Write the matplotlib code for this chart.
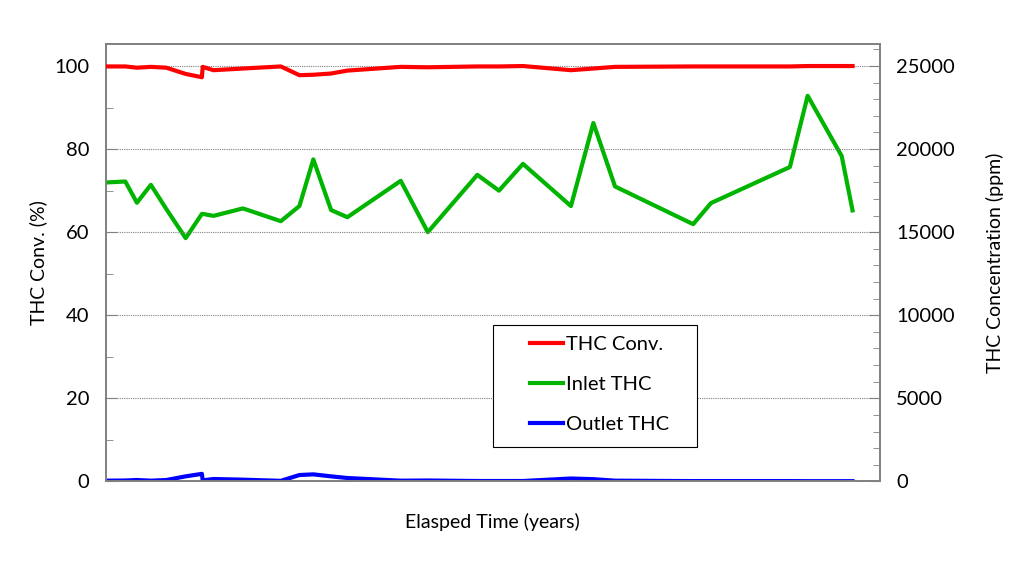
import matplotlib.pyplot as plt
from matplotlib.patches import Rectangle
from matplotlib.ticker import MultipleLocator, NullLocator

plt.rcParams['font.family'] = ['Lato', 'DejaVu Sans']

# elapsed time (years)
years = [0.0, 0.25, 0.40, 0.58, 0.78, 1.03, 1.24, 1.25, 1.39, 1.77, 2.26, 2.50,
         2.68, 2.91, 3.12, 3.81, 4.16, 4.80, 5.08, 5.39, 6.01, 6.30, 6.58, 7.59,
         7.82, 8.84, 9.07, 9.51, 9.65]
# THC conversion (%)
thc_conv = [99.9, 99.9, 99.6, 99.8, 99.6, 98.1, 97.3, 99.8, 99.0, 99.4, 99.9, 97.8,
            97.9, 98.2, 98.9, 99.8, 99.7, 99.9, 99.9, 100.0, 99.0, 99.4, 99.8, 99.9,
            99.9, 99.9, 100.0, 100.0, 100.0]
# inlet THC (ppm)
inlet_thc = [17990, 18050, 16770, 17850, 16390, 14640, 16100, 16100, 15980, 16430, 15660, 16570,
             19380, 16330, 15900, 18090, 15000, 18450, 17500, 19110, 16570, 21570, 17750, 15480,
             16750, 18920, 23210, 19580, 16310]
# outlet THC (ppm)
outlet_thc = [40, 50, 80, 40, 80, 300, 450, 60, 140, 100, 30, 380,
              420, 300, 200, 40, 50, 20, 20, 20, 170, 130, 40, 15,
              15, 15, 10, 10, 10]

fig, ax = plt.subplots(figsize=(10.24, 5.87), dpi=100)
fig.subplots_adjust(left=0.1035, right=0.859, top=0.925, bottom=0.18)
ax2 = ax.twinx()

l1, = ax.plot(years, thc_conv, color='#ff0000', lw=3, label='THC Conv.', zorder=3)
l2, = ax2.plot(years, inlet_thc, color='#00b400', lw=3, label='Inlet THC')
l3, = ax2.plot(years, outlet_thc, color='#0000ff', lw=3, label='Outlet THC')

ax.set_zorder(ax2.get_zorder() + 1)
ax.patch.set_visible(False)

ax.set_xlim(0, 10)
ax.set_ylim(0, 105.3)
ax2.set_ylim(0, 26325)

ax.xaxis.set_major_locator(NullLocator())
ax.yaxis.set_major_locator(MultipleLocator(20))
ax.yaxis.set_minor_locator(MultipleLocator(10))
ax2.yaxis.set_major_locator(MultipleLocator(5000))
ax2.yaxis.set_minor_locator(MultipleLocator(1000))

for a in (ax, ax2):
    a.tick_params(axis='y', which='both', direction='in', labelsize=14.5, colors='#808080',
                  labelcolor='black', pad=12)
    a.tick_params(axis='y', which='major', length=8)
    a.tick_params(axis='y', which='minor', length=5)
    for s in a.spines.values():
        s.set_color('#808080')
        s.set_linewidth(1.2)

ax.grid(axis='y', which='major', color='#808080', linestyle=(0, (1, 1)), lw=0.8)

ax.set_ylabel('THC Conv. (%)', fontsize=14, labelpad=5)
ax2.set_ylabel('THC Concentration (ppm)', fontsize=14, labelpad=22)
ax.set_xlabel('Elasped Time (years)', fontsize=14, labelpad=23)

# legend box (frame drawn separately for the wide side margins)
ax.add_patch(Rectangle((0.500, 0.078), 0.2636, 0.279, transform=ax.transAxes,
                       facecolor='white', edgecolor='black', lw=0.8, zorder=4))
leg = ax.legend(handles=[l1, l2, l3], loc='upper left', bbox_to_anchor=(0.548, 0.332),
                fontsize=14.5, frameon=False, handlelength=1.65, labelspacing=1.12,
                borderpad=0, handletextpad=0.15, borderaxespad=0)
leg.set_zorder(5)

fig.savefig('out.png', dpi=100)
